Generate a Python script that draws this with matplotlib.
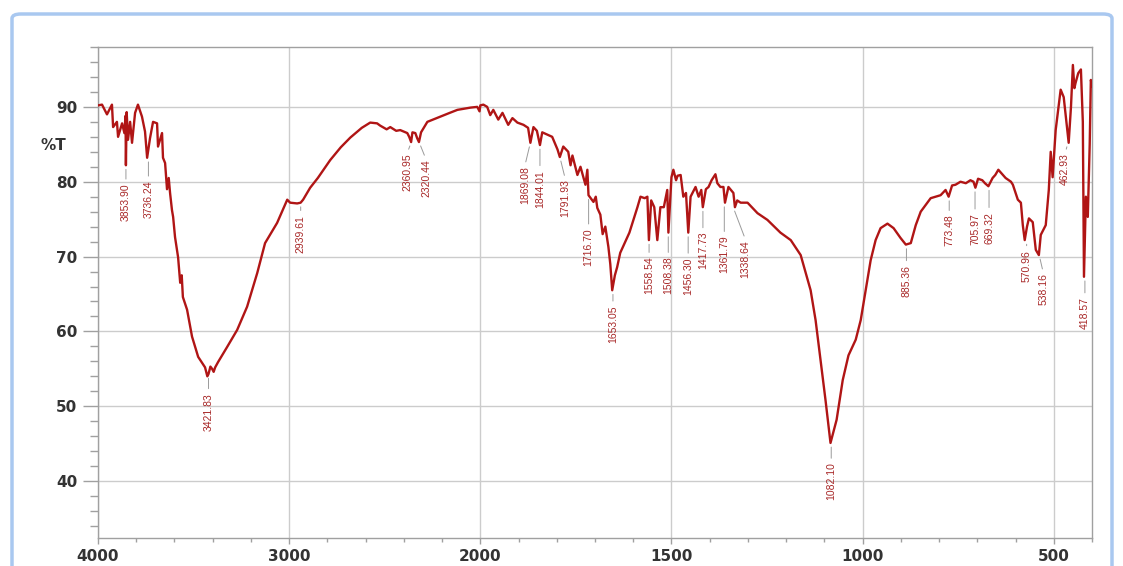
import numpy as np
import matplotlib
matplotlib.use("Agg")
import matplotlib.pyplot as plt
from matplotlib.patches import FancyBboxPatch

# spectrum (wavenumber, %T)
wn = [4000, 3979, 3953, 3927, 3921, 3901, 3895, 3874, 3862, 3856, 3854, 3850,
      3843, 3832, 3822, 3806, 3791, 3770, 3754, 3743, 3728, 3712, 3691, 3686,
      3665, 3660, 3649, 3639, 3630, 3623, 3613, 3607, 3597, 3581, 3570, 3562,
      3556, 3534, 3508, 3476, 3440, 3428, 3422, 3412, 3403, 3395, 3387, 3372,
      3325, 3272, 3220, 3167, 3126, 3063, 3010, 2995, 2958, 2940, 2927, 2890,
      2850, 2785, 2730, 2680, 2620, 2576, 2540, 2524, 2490, 2471, 2440, 2419,
      2382, 2372, 2362, 2355, 2340, 2330, 2321, 2310, 2277, 2209, 2160, 2120,
      2052, 2016, 2004, 2000, 1992, 1982, 1974, 1966, 1953, 1942, 1927, 1916,
      1903, 1887, 1875, 1869, 1861, 1852, 1844, 1838, 1825, 1812, 1798, 1792,
      1783, 1770, 1764, 1759, 1746, 1738, 1725, 1720, 1717, 1704, 1698, 1694,
      1686, 1680, 1673, 1665, 1660, 1655, 1648, 1642, 1634, 1610, 1589, 1581,
      1570, 1563, 1559, 1553, 1545, 1537, 1529, 1520, 1511, 1508, 1500, 1495,
      1488, 1484, 1476, 1469, 1462, 1456, 1450, 1445, 1437, 1429, 1422, 1418,
      1410, 1403, 1395, 1390, 1385, 1380, 1372, 1364, 1360, 1351, 1343, 1338,
      1334, 1328, 1319, 1301, 1275, 1249, 1215, 1188, 1162, 1136, 1123, 1110,
      1097, 1084, 1068, 1052, 1037, 1018, 1005, 992, 979, 966, 953, 935, 919,
      901, 887, 874, 861, 848, 835, 822, 809, 796, 783, 775, 766, 757, 744,
      730, 718, 710, 705, 698, 687, 680, 671, 660, 653, 645, 638, 626, 612,
      607, 594, 586, 581, 576, 570, 565, 555, 547, 539, 534, 521, 513, 508,
      503, 495, 482, 474, 466, 461, 455, 450, 446, 443, 436, 429, 424, 421,
      416, 411, 406, 403, 400]
trans = [90.2, 90.3, 89.0, 90.3, 87.3, 88.0, 86.0, 87.8, 86.5, 88.8, 82.2, 89.3,
         85.6, 88.0, 85.2, 89.2, 90.3, 88.7, 86.7, 83.2, 85.8, 88.0, 87.8, 84.7,
         86.5, 83.2, 82.5, 79.0, 80.5, 78.5, 76.2, 75.3, 72.6, 69.9, 66.5, 67.5,
         64.6, 62.9, 59.3, 56.6, 55.2, 54.0, 54.3, 55.3, 55.0, 54.6, 55.2, 55.9,
         57.9, 60.2, 63.3, 67.8, 71.8, 74.5, 77.6, 77.2, 77.1, 77.2, 77.6, 79.2,
         80.5, 82.9, 84.6, 85.9, 87.2, 87.9, 87.8, 87.5, 87.0, 87.3, 86.8, 86.9,
         86.5, 86.0, 85.3, 86.6, 86.5, 85.8, 85.3, 86.6, 88.0, 88.7, 89.2, 89.6,
         89.9, 90.0, 89.4, 90.2, 90.3, 90.0, 88.9, 89.6, 88.3, 89.2, 87.6, 88.5,
         87.9, 87.6, 87.2, 85.2, 87.3, 86.8, 84.9, 86.6, 86.3, 86.0, 84.3, 83.3,
         84.7, 84.0, 82.2, 83.5, 80.9, 82.0, 79.6, 81.6, 78.2, 77.3, 78.0, 76.5,
         75.6, 73.0, 74.0, 71.3, 69.0, 65.5, 67.5, 68.6, 70.5, 73.2, 76.6, 78.0,
         77.8, 78.0, 72.2, 77.5, 76.6, 72.2, 76.6, 76.6, 78.9, 73.2, 80.6, 81.6,
         80.2, 80.8, 80.9, 78.0, 78.5, 73.2, 78.0, 78.5, 79.3, 78.0, 78.9, 76.6,
         79.0, 79.3, 80.2, 80.6, 81.0, 79.8, 79.3, 79.3, 77.2, 79.3, 78.8, 78.5,
         76.6, 77.5, 77.2, 77.2, 75.8, 74.9, 73.2, 72.2, 70.2, 65.5, 61.5, 56.2,
         50.8, 45.1, 48.2, 53.5, 56.8, 58.9, 61.5, 65.5, 69.5, 72.2, 73.8, 74.4, 73.8,
         72.5, 71.6, 71.8, 74.2, 76.0, 76.9, 77.8, 78.0, 78.2, 78.9, 78.0, 79.5, 79.6, 80.0,
         79.8, 80.2, 80.0, 79.2, 80.4, 80.2, 79.8, 79.4, 80.5, 80.9, 81.6, 81.2, 80.5, 80.0,
         79.6, 77.6, 77.2, 74.2, 72.2, 74.0, 75.1, 74.6, 70.9, 70.2, 72.9, 74.2, 78.9, 84.0,
         80.6, 86.9, 92.3, 91.3, 87.5, 85.2, 90.0, 95.6, 92.5, 93.2, 94.5, 95.0, 88.0, 67.3,
         78.0, 75.3, 85.0, 93.6, 92.8]

# peak labels
peak_labels = ['3853.90', '3736.24', '3421.83', '2939.61', '2360.95', '2320.44',
               '1869.08', '1844.01', '1791.93', '1716.70', '1653.05', '1558.54',
               '1508.38', '1456.30', '1417.73', '1361.79', '1338.64', '1082.10',
               '885.36', '773.48', '705.97', '669.32', '570.96', '538.16',
               '462.93', '418.57']
peak_T = [82.2, 83.2, 54.3, 77.2, 85.3, 85.3, 85.2, 84.9, 83.3, 78.2, 65.5, 72.2,
          73.2, 73.2, 76.6, 77.2, 76.6, 45.1, 71.6, 78.0, 79.2, 79.4, 72.2, 70.2,
          85.2, 67.3]
label_T = [79.8, 80.2, 51.8, 75.6, 83.8, 83.0, 82.1, 81.6, 80.3, 73.8, 63.5, 70.0,
           70.0, 69.9, 73.3, 72.8, 72.2, 42.5, 68.9, 75.6, 75.8, 76.0, 70.9, 67.8,
           83.8, 64.6]
label_dx = {'2360.95': -3, '2320.44': 5, '1869.08': -4, '1791.93': 4,
            '1338.64': 9, '538.16': 3, '462.93': -2}


# below 2000 cm-1 the axis is stretched x2
def fwd(w):
    w = np.asarray(w, dtype=float)
    return np.where(w >= 2000, w, 2000 - 2 * (2000 - w))


def inv(p):
    p = np.asarray(p, dtype=float)
    return np.where(p >= 2000, p, 2000 - (2000 - p) / 2)


fig = plt.figure(figsize=(11.23, 5.66), dpi=100)
# light blue card border (top-left corner visible, bottom runs off the image)
frame = FancyBboxPatch((12 / 1123, -100 / 566), 1100 / 1123, (566 - 14 + 100) / 566,
                       boxstyle="round,pad=0,rounding_size=0.008",
                       transform=fig.transFigure, fill=False,
                       ec='#a9c8f0', lw=2.5, zorder=0)
frame.set_clip_on(False)
fig.patches.append(frame)

ax = fig.add_axes([98 / 1123, 1 - 538 / 566, (1092 - 98) / 1123, (538 - 47) / 566])

ax.set_xscale('function', functions=(fwd, inv))
ax.set_xlim(4000, 400)
ax.set_ylim(32.4, 98)

ax.plot(wn, trans, color='#b01515', lw=1.7, zorder=3)

ax.set_xticks([4000, 3000, 2000, 1500, 1000, 500])
minor_x = [3800, 3600, 3400, 3200, 2800, 2600, 2400, 2200] + \
          [w for w in range(1900, 399, -100) if w not in (1500, 1000, 500)]
ax.set_xticks(minor_x, minor=True)
ax.set_yticks([40, 50, 60, 70, 80, 90])
ax.set_yticks(np.arange(34, 98.1, 2), minor=True)

ax.grid(True, which='major', color='#cccccc', lw=1.0)
for s in ax.spines.values():
    s.set_color('#a0a0a0')
    s.set_linewidth(1.0)

tick_font = dict(family='DejaVu Sans', weight='bold', size=11)
ax.tick_params(axis='y', which='major', direction='out', length=11, width=1,
               color='#a0a0a0', pad=4, labelcolor='#333333')
ax.tick_params(axis='y', which='minor', direction='out', length=6, width=1,
               color='#a0a0a0')
ax.tick_params(axis='x', which='major', direction='out', length=4, width=1,
               color='#a0a0a0', pad=4, labelcolor='#333333')
ax.tick_params(axis='x', which='minor', direction='out', length=3, width=1,
               color='#a0a0a0')
for lab in ax.get_xticklabels() + ax.get_yticklabels():
    lab.set_fontproperties(tick_font)

fig.text(53 / 1123, 1 - 145 / 566, '%T', ha='center', va='center',
         color='#333333', **tick_font)

# peak annotations
bb = ax.get_window_extent()
pts_per_unit = bb.height * 72 / fig.dpi / (98 - 32.4)
for lab, pT, lT in zip(peak_labels, peak_T, label_T):
    ax.annotate(lab, xy=(float(lab), pT),
                xytext=(label_dx.get(lab, 0), (lT - pT) * pts_per_unit),
                textcoords='offset points', rotation=90, ha='center', va='top',
                fontsize=7.5, family='Liberation Sans', color='#a82828',
                arrowprops=dict(arrowstyle='-', color='#9a9a9a', lw=0.7,
                                shrinkA=1, shrinkB=3, relpos=(0.5, 1.0)),
                zorder=4)

fig.savefig('out.png', dpi=100)
